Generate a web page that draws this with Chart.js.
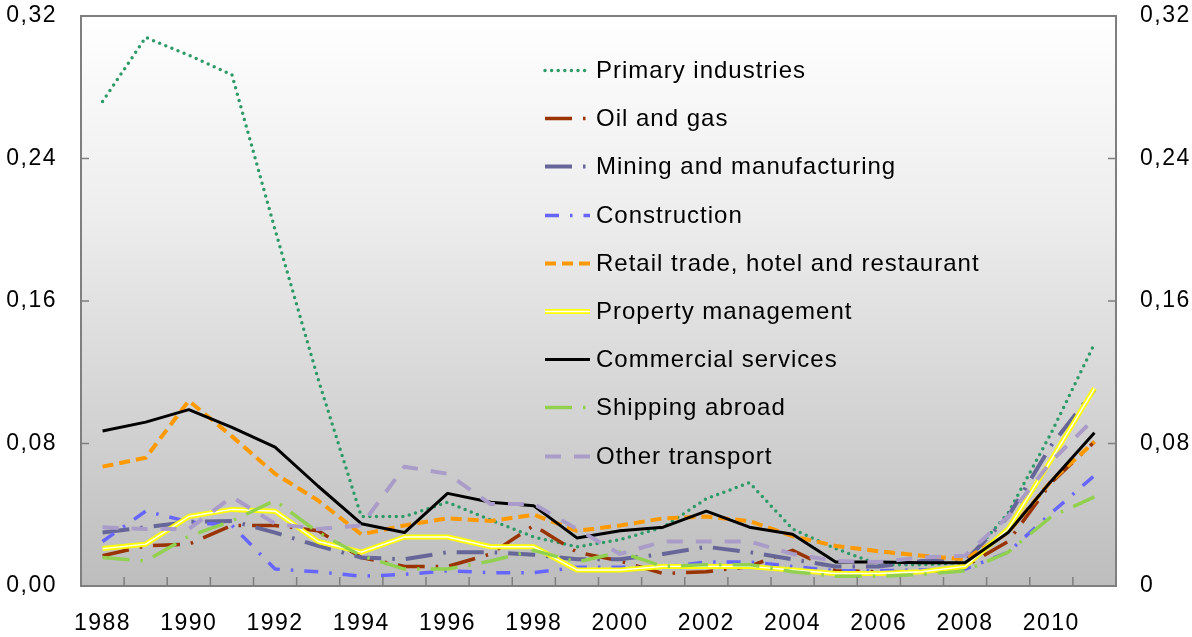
<!DOCTYPE html>
<html>
<head>
<meta charset="utf-8">
<script src="https://cdn.jsdelivr.net/npm/chart.js@4"></script>
<style>
  body { margin: 0; background: #fff; }
  #wrap { width: 1192px; height: 637px; }
</style>
</head>
<body>
<div id="wrap"><canvas id="myChart" width="1192" height="637"></canvas></div>
<script>
const years = ["1988", "1989", "1990", "1991", "1992", "1993", "1994", "1995", "1996", "1997", "1998", "1999",
  "2000", "2001", "2002", "2003", "2004", "2005", "2006", "2007", "2008", "2009", "2010", "2011"];

const primary = [0.272, 0.308, 0.298, 0.287, 0.200, 0.116, 0.039, 0.039, 0.047, 0.037, 0.0275, 0.022,
  0.026, 0.033, 0.049, 0.058, 0.032, 0.021, 0.012, 0.012, 0.013, 0.041, 0.086, 0.136];
const oilGas = [0.017, 0.0225, 0.0235, 0.034, 0.034, 0.031, 0.016, 0.011, 0.011, 0.018, 0.034, 0.019,
  0.014, 0.007, 0.008, 0.011, 0.020, 0.0085, 0.008, 0.0075, 0.011, 0.025, 0.058, 0.081];
const mining = [0.030, 0.033, 0.036, 0.0365, 0.030, 0.0225, 0.016, 0.015, 0.019, 0.019, 0.0175, 0.015,
  0.015, 0.018, 0.022, 0.019, 0.015, 0.011, 0.011, 0.014, 0.014, 0.039, 0.079, 0.110];
const construction = [0.025, 0.042, 0.036, 0.034, 0.0095, 0.008, 0.0055, 0.0065, 0.0085, 0.0075, 0.0075, 0.0105,
  0.0105, 0.0105, 0.0135, 0.0135, 0.011, 0.0085, 0.0085, 0.009, 0.0095, 0.019, 0.041, 0.062];
const retail = [0.067, 0.072, 0.104, 0.084, 0.063, 0.048, 0.029, 0.034, 0.038, 0.0365, 0.040, 0.031,
  0.034, 0.038, 0.039, 0.0365, 0.028, 0.0225, 0.0195, 0.017, 0.015, 0.030, 0.059, 0.081];
const property = [0.021, 0.0235, 0.039, 0.043, 0.042, 0.025, 0.019, 0.0275, 0.0275, 0.022, 0.022, 0.009,
  0.009, 0.011, 0.011, 0.011, 0.009, 0.007, 0.007, 0.008, 0.011, 0.032, 0.071, 0.111];
const commercial = [0.087, 0.092, 0.099, 0.089, 0.078, 0.056, 0.035, 0.030, 0.052, 0.047, 0.045, 0.027,
  0.031, 0.033, 0.042, 0.033, 0.029, 0.0135, 0.0135, 0.013, 0.013, 0.030, 0.059, 0.086];
const shipping = [0.016, 0.014, 0.028, 0.0365, 0.048, 0.030, 0.017, 0.0095, 0.0095, 0.014, 0.020, 0.0135,
  0.019, 0.011, 0.012, 0.012, 0.008, 0.0055, 0.0055, 0.0065, 0.0085, 0.019, 0.039, 0.050];
const otherTransport = [0.033, 0.032, 0.032, 0.050, 0.035, 0.032, 0.034, 0.067, 0.063, 0.046, 0.046, 0.032,
  0.018, 0.025, 0.025, 0.025, 0.018, 0.014, 0.0135, 0.016, 0.017, 0.039, 0.070, 0.094];

const yTicks = [0, 0.08, 0.16, 0.24, 0.32];

const FONT = "'Liberation Sans', Arial, sans-serif";

function series(label, data, color, width, dash, cap) {
  return {
    label: label,
    data: data,
    borderColor: color,
    backgroundColor: color,
    borderWidth: width,
    borderDash: dash,
    borderCapStyle: cap || "butt",
    borderJoinStyle: "round",
    pointRadius: 0,
    pointHoverRadius: 0,
    tension: 0,
    fill: false,
    yAxisID: "y",
  };
}

const datasets = [
  series("Primary industries", primary, "#2E9A68", 3.5, [0, 6.6], "round"),
  series("Oil and gas", oilGas, "#993300", 3.5, [27, 11, 2.5, 11]),
  series("Mining and manufacturing", mining, "#666699", 4, [27, 11, 2.5, 11]),
  series("Construction", construction, "#6666FF", 3.5, [14, 11, 2.5, 11]),
  series("Retail trade, hotel and restaurant", retail, "#FF9900", 4, [11, 6]),
  series("Property management", property, "#FFFF00", 5, []),
  series("", property, "#FFFFFF", 1.4, []),
  series("Commercial services", commercial, "#000000", 3, []),
  series("Shipping abroad", shipping, "#92D050", 3.5, [27, 11, 2.5, 11]),
  series("Other transport", otherTransport, "#A99CC9", 4, [16, 13]),
];
// later datasets on top
datasets.forEach((d, i) => { d.order = datasets.length - i; });

function fmt(v) {
  return v.toFixed(2).replace(".", ",");
}

// keep the plot box where the original has it
function fixY(width) {
  return s => {
    s.width = width;
    s.paddingTop = 0;
    s.paddingBottom = 0;
  };
}

const plotStyle = {
  id: "plotStyle",
  beforeDraw(chart) {
    if ("letterSpacing" in chart.ctx) chart.ctx.letterSpacing = "1.5px";
  },
  beforeDatasetsDraw(chart) {
    const { ctx, chartArea: a } = chart;
    const g = ctx.createLinearGradient(0, a.top, 0, a.bottom);
    g.addColorStop(0, "#FFFFFF");
    g.addColorStop(0.35, "#EDEDED");
    g.addColorStop(1, "#BDBDBD");
    ctx.save();
    ctx.fillStyle = g;
    ctx.fillRect(a.left, a.top, a.right - a.left, a.bottom - a.top);
    ctx.restore();
  },
  afterDatasetsDraw(chart) {
    const { ctx, chartArea: a, scales } = chart;
    ctx.save();
    ctx.strokeStyle = "#7F7F7F";
    ctx.lineWidth = 2;
    ctx.setLineDash([]);
    ctx.strokeRect(a.left, a.top, a.right - a.left, a.bottom - a.top);
    ctx.lineWidth = 1.5;
    ctx.beginPath();
    yTicks.forEach(v => {
      const py = scales.y.getPixelForValue(v);
      ctx.moveTo(a.left, py); ctx.lineTo(a.left + 8, py);
      ctx.moveTo(a.right, py); ctx.lineTo(a.right - 8, py);
    });
    const step = (a.right - a.left) / years.length;
    for (let i = 1; i < years.length; i++) {
      const px = a.left + i * step;
      ctx.moveTo(px, a.bottom); ctx.lineTo(px, a.bottom - 9);
    }
    ctx.stroke();

    // legend inside the plot
    const x0 = 545, x1 = 590, tx = 596, y0 = 70, dy = 48.2;
    let row = 0;
    ctx.font = "24px " + FONT;
    ctx.textBaseline = "middle";
    ctx.fillStyle = "#000";
    if ("letterSpacing" in ctx) ctx.letterSpacing = "1px";
    chart.data.datasets.forEach(d => {
      if (!d.label) return;
      const yy = Math.round(y0 + row * dy) + 0.5;
      ctx.save();
      ctx.strokeStyle = d.borderColor;
      ctx.lineWidth = d.borderWidth;
      ctx.lineCap = d.borderCapStyle;
      ctx.setLineDash(d.borderDash);
      ctx.beginPath();
      ctx.moveTo(x0, yy); ctx.lineTo(x1, yy);
      ctx.stroke();
      if (d.label === "Property management") {
        ctx.strokeStyle = "#FFFFFF";
        ctx.lineWidth = 1.4;
        ctx.beginPath();
        ctx.moveTo(x0, yy); ctx.lineTo(x1, yy);
        ctx.stroke();
      }
      ctx.restore();
      ctx.fillText(d.label, tx, yy + 1);
      row++;
    });
    ctx.restore();
  },
};

new Chart("myChart", {
  type: "line",
  data: {
    labels: years,
    datasets: datasets,
  },
  options: {
    responsive: false,
    animation: false,
    layout: { padding: { top: 16, right: 0, left: 0, bottom: 0 } },
    plugins: {
      legend: { display: false },
      tooltip: { enabled: false },
    },
    scales: {
      x: {
        type: "category",
        offset: true,
        grid: { display: false, drawTicks: false },
        border: { display: false },
        afterFit: s => { s.height = 51; },
        ticks: {
          autoSkip: false,
          maxRotation: 0,
          padding: 24,
          color: "#000",
          font: { family: FONT, size: 23 },
          callback: (v, i) => (i % 2 === 0 ? years[i] : ""),
        },
      },
      y: {
        position: "left",
        min: 0,
        max: 0.32,
        afterFit: fixY(81),
        afterBuildTicks: s => { s.ticks = yTicks.map(v => ({ value: v })); },
        grid: { display: false, drawTicks: false },
        border: { display: false },
        ticks: {
          padding: 24,
          color: "#000",
          font: { family: FONT, size: 23 },
          callback: v => fmt(v),
        },
      },
      y2: {
        position: "right",
        min: 0,
        max: 0.32,
        afterFit: fixY(76),
        afterBuildTicks: s => { s.ticks = yTicks.map(v => ({ value: v })); },
        grid: { display: false, drawTicks: false },
        border: { display: false },
        ticks: {
          padding: 24,
          color: "#000",
          font: { family: FONT, size: 23 },
          callback: v => (v === 0 ? "0" : fmt(v)),
        },
      },
    },
  },
  plugins: [plotStyle],
});
</script>
</body>
</html>
